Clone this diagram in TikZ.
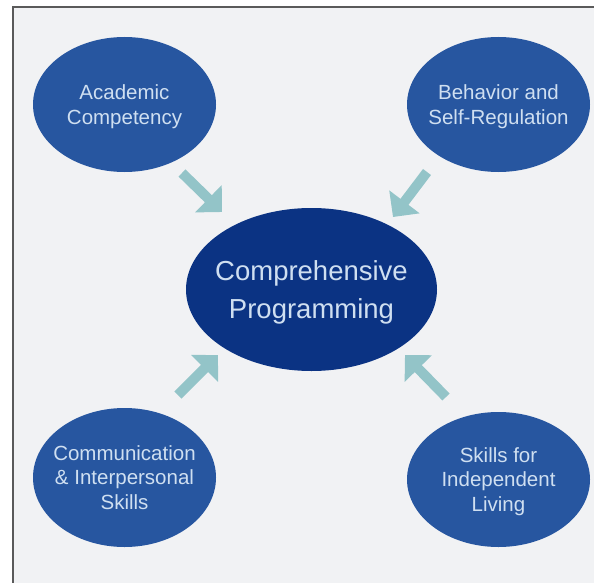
\documentclass[tikz,border=0pt]{standalone}
\usepackage{fontspec}
\setmainfont{Liberation Sans}
\usetikzlibrary{arrows.meta,shapes.geometric}
\definecolor{ink}{HTML}{CFDFF1}
\definecolor{areablue}{HTML}{2756A0}
\definecolor{hubblue}{HTML}{0B3383}
\definecolor{flowteal}{HTML}{93C4C8}
\definecolor{softbg}{HTML}{F1F2F4}
\definecolor{framegray}{HTML}{5A5A5A}
\tikzset{
  area/.style={
    ellipse,
    fill=areablue,
    text=ink,
    align=center,
    minimum width=183pt,
    minimum height=135pt,
    inner xsep=-12pt,
    inner ysep=0pt,
    text depth=0pt,
    font=\fontsize{20.5}{24.8}\selectfont
  },
  hub/.style={area, fill=hubblue, minimum width=251pt, minimum height=163pt,
    font=\fontsize{27.5}{38.6}\selectfont},
  flow/.style={-{Triangle[length=19pt,width=37pt]}, line width=10pt, draw=flowteal}
}

\begin{document}
\begin{tikzpicture}[x=1pt, y=-1pt]
  \useasboundingbox (0,0) rectangle (594,583);
  \clip (0,0) rectangle (594,583);
  \draw[framegray, line width=2pt, fill=softbg] (13,7) rectangle (620,610);

  % the four areas round the hub
  \node[hub] (prog) at (311.5,289.5) {Comprehensive\\Programming};
  \node[area] (acad) at (124.5,104.5) {Academic\\Competency};
  \node[area] (behav) at (498.5,104.5) {Behavior and\\Self-Regulation};
  \node[area, minimum height=139pt] (comm) at (124.5,477.5) {Communication\\\& Interpersonal\\Skills};
  \node[area] (living) at (498.5,479.5) {Skills for\\Independent\\Living};

  % arrows into the hub
  \coordinate (acadtail) at (182,173);   \coordinate (acadtip) at (222,212);
  \coordinate (behavtail) at (427,172);  \coordinate (behavtip) at (393,217);
  \coordinate (commtail) at (178,395);   \coordinate (commtip) at (218,355);
  \coordinate (livingtail) at (446,397); \coordinate (livingtip) at (405,355);
  \draw[flow] (acadtail) -- (acadtip);
  \draw[flow] (behavtail) -- (behavtip);
  \draw[flow] (commtail) -- (commtip);
  \draw[flow] (livingtail) -- (livingtip);
\end{tikzpicture}
\end{document}
